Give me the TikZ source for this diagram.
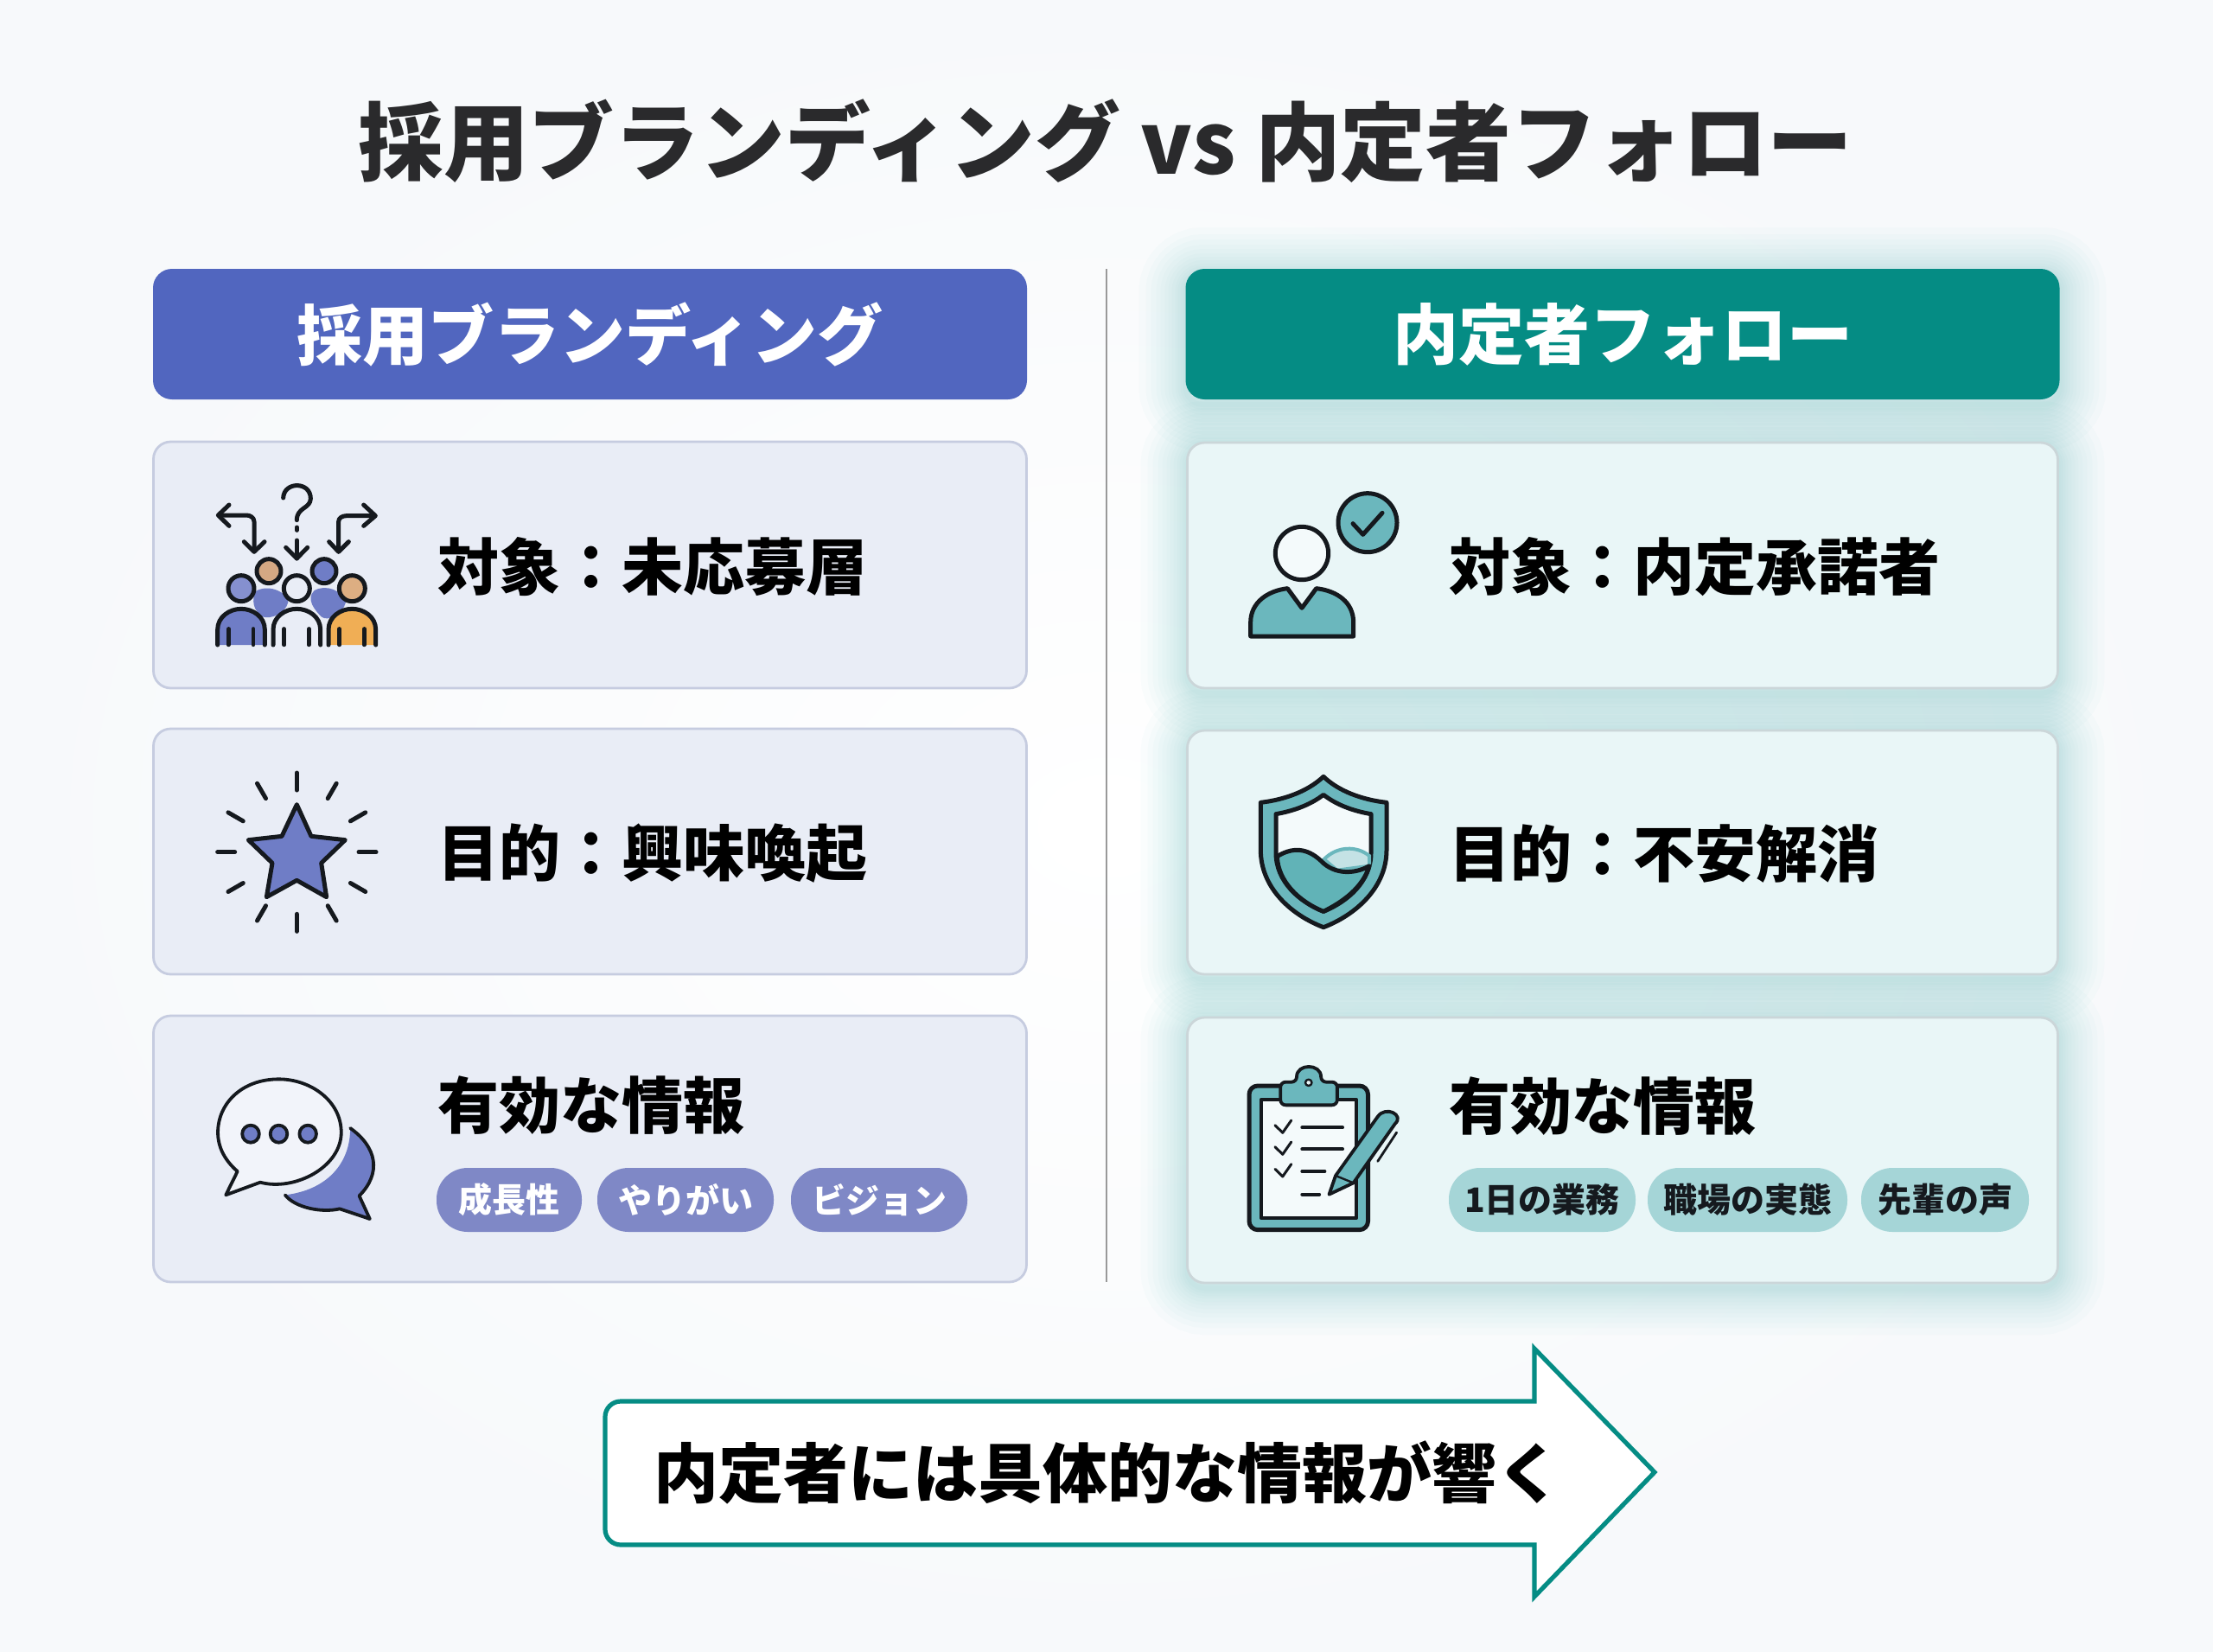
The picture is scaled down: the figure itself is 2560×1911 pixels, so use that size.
\documentclass[tikz,border=0pt]{standalone}
\usepackage{fontspec}
\setmainfont{Noto Sans CJK JP}
\usetikzlibrary{arrows.meta, positioning, calc, backgrounds}

\definecolor{pageedge}{HTML}{F7F9FB}
\definecolor{indigo}{HTML}{5166BF}
\definecolor{indigosoft}{HTML}{6F7DC6}
\definecolor{indigopill}{HTML}{7F88C6}
\definecolor{indigocard}{HTML}{E9EDF6}
\definecolor{indigoedge}{HTML}{C6CCE0}
\definecolor{teal}{HTML}{058C84}
\definecolor{tealsoft}{HTML}{6BB7BD}
\definecolor{tealpill}{HTML}{A5D5D7}
\definecolor{tealcard}{HTML}{E9F6F7}
\definecolor{tealedge}{HTML}{CBD6D9}
\definecolor{tealglow}{HTML}{1FB0AE}
\definecolor{inkdark}{HTML}{15191E}
\definecolor{titleink}{HTML}{2A2A2C}
\definecolor{tanlight}{HTML}{DDAE82}
\definecolor{tandark}{HTML}{D4A883}
\definecolor{amber}{HTML}{F0AE55}

\begin{document}
\begin{tikzpicture}[
  x=0.5pt, y=-0.5pt,
  head/.style = {rounded corners=11pt, minimum width=505.5pt, minimum height=75.5pt, outer sep=0pt, text=white, font=\fontsize{38}{46}\selectfont\bfseries},
  card/.style = {rounded corners=10pt, line width=1.4pt, outer sep=0pt},
  cardL/.style = {card, minimum width=505pt, draw=indigoedge, fill=indigocard},
  cardR/.style = {card, minimum width=503.5pt, draw=tealedge, fill=tealcard},
  cardtext/.style = {inner sep=0pt, text=black, font=\fontsize{35.5}{43}\selectfont\bfseries},
  pill/.style = {rounded corners=18pt, minimum height=37pt, inner sep=0pt, outer sep=0pt, font=\fontsize{19.5}{24}\selectfont\bfseries},
  pillL/.style = {pill, fill=indigopill, text=white},
  pillR/.style = {pill, fill=tealpill, text=inkdark},
  icon/.style = {draw=inkdark, line width=2.5pt, line join=round, line cap=round},
  thin icon/.style = {icon, line width=1.9pt},
  zoomed/.style = {x=0.16667pt, y=-0.16667pt}
]

  % Canvas
  \path[use as bounding box] (0,0) rectangle (2560,1911);

  % Title
  \node[text=titleink, font=\fontsize{49.4}{59}\selectfont\bfseries] (title) at (1279,163) {採用ブランディング vs 内定者フォロー};

  % Left column
  \node[head, fill=indigo] (headL) at (682.5,386.5) {\raisebox{-1pt}{採用ブランディング}};
  \node[cardL, minimum height=142.5pt, below=24.5pt of headL] (cardL1) {};
  \node[cardL, minimum height=142pt, below=23.5pt of cardL1] (cardL2) {};
  \node[cardL, minimum height=154pt, below=24pt of cardL2] (cardL3) {};

  % Right column
  \node[head, fill=teal] (headR) at (1877,386.5) {\raisebox{-1pt}{内定者フォロー}};
  \node[cardR, minimum height=142pt, below=25pt of headR] (cardR1) {};
  \node[cardR, minimum height=141pt, below=24.5pt of cardR1] (cardR2) {};
  \node[cardR, minimum height=153.5pt, below=25pt of cardR2] (cardR3) {};

  % Divider
  \draw[line width=1.4pt, color=black!40] (1280,311) -- (1280,1483);

  % Row texts
  \node[cardtext, right=164.5pt of cardL1.west, yshift=-1pt] (targetL) {対象：未応募層};
  \node[cardtext, right=164.5pt of cardL2.west, yshift=-1pt] (goalL) {目的：興味喚起};
  \node[cardtext, right=164.5pt of cardL3.west, yshift=25pt] (infoL) {有効な情報};
  \node[cardtext, right=151.5pt of cardR1.west, yshift=-1pt] (targetR) {対象：内定承諾者};
  \node[cardtext, right=151.5pt of cardR2.west, yshift=-1pt] (goalR) {目的：不安解消};
  \node[cardtext, right=151.5pt of cardR3.west, yshift=25.5pt] (infoR) {有効な情報};

  % Pills
  \node[pillL, minimum width=84pt] (pillL1) at (589,1388) {成長性};
  \node[pillL, minimum width=102pt, right=9pt of pillL1] (pillL2) {やりがい};
  \node[pillL, minimum width=102pt, right=10pt of pillL2] (pillL3) {ビジョン};
  \node[pillR, minimum width=108pt] (pillR1) at (1784,1388) {1日の業務};
  \node[pillR, minimum width=115.5pt, right=7pt of pillR1] (pillR2) {職場の実態};
  \node[pillR, minimum width=97pt, right=8pt of pillR2] (pillR3) {先輩の声};

  % Bottom arrow
  \draw[line width=2.6pt, draw=teal, fill=white, line join=miter]
    (1775,1621) -- (1775,1560) -- (1914,1703) -- (1775,1847) -- (1775,1787)
    [rounded corners=9pt] -- (700,1787) -- (700,1621) [sharp corners] -- cycle;
  \node[text=black, font=\fontsize{37.5}{45}\selectfont\bfseries] (message) at (1281,1703) {内定者には具体的な情報が響く};

  % Icon: crowd
  \begin{scope}[shift={(200,520)}, zoomed]
    \draw[icon] (282,350) -- (282,250) to[out=90,in=0] (255,228) -- (160,228);
    \draw[icon] (195,192) -- (157,228) -- (195,265);
    \draw[icon] (247,320) -- (282,355) -- (318,320);
    \draw[icon] (575,350) -- (575,250) to[out=90,in=180] (602,230) -- (700,230);
    \draw[icon] (662,192) -- (703,230) -- (662,265);
    \draw[icon] (542,320) -- (575,355) -- (610,320);
    \draw[icon] (383,168) .. controls (385,110) and (478,110) .. (478,170) .. controls (478,205) and (430,200) .. (430,245);
    \draw[icon] (430,270) -- (430,280);
    \draw[icon] (430,315) -- (430,378);
    \draw[icon] (392,340) -- (430,378) -- (467,340);
    \fill[indigosoft] (290,490) .. controls (340,465) and (400,500) .. (400,530) .. controls (390,570) and (340,590) .. (310,580) .. controls (280,560) and (270,520) .. (290,490);
    \fill[indigosoft] (490,490) .. controls (530,465) and (590,490) .. (600,530) .. controls (590,570) and (540,600) .. (515,580) .. controls (495,560) and (460,520) .. (490,490);
    \draw[icon, fill=tandark] (333,422) circle[radius=42];
    \draw[icon, fill=indigosoft] (525,422) circle[radius=42];
    \foreach \cx/\headcol/\bodycol in {237/indigosoft!85!white/indigosoft, 430/indigocard/indigocard, 622/tanlight/amber} {
      \draw[icon, fill=\headcol] (\cx,482) circle[radius=45];
      \draw[icon, fill=\bodycol] (\cx-82,678) -- (\cx-82,625) .. controls (\cx-82,580) and (\cx-40,553) .. (\cx,553) .. controls (\cx+40,553) and (\cx+82,580) .. (\cx+82,625) -- (\cx+82,678);
      \draw[thin icon, line width=2.2pt] (\cx-44,622) -- (\cx-44,678);
      \draw[thin icon, line width=2.2pt] (\cx+42,622) -- (\cx+42,678);
    }
  \end{scope}

  % Icon: star
  \begin{scope}[shift={(200,860)}, zoomed]
    \foreach \ang in {0,30,...,330}
      \draw[icon] ($(430,377)+(\ang:215)$) -- ($(430,377)+(\ang:275)$);
    \draw[icon, fill=indigosoft] (430,212) -- (480,322) -- (598,335) -- (515,415) -- (533,533) -- (430,475) -- (325,533) -- (345,415) -- (262,335) -- (378,322) -- cycle;
  \end{scope}

  % Icon: speech bubbles
  \begin{scope}[shift={(200,1200)}, x=0.3062pt, y=-0.16667pt]
    \fill[indigosoft] (335,315) .. controls (385,380) and (395,470) .. (352,550) -- (372,630) -- (315,595) .. controls (280,610) and (230,590) .. (212,547) .. controls (290,530) and (335,440) .. (335,315) -- cycle;
    \draw[thin icon] (335,315) .. controls (385,380) and (395,470) .. (352,550) -- (372,630) -- (315,595) .. controls (280,610) and (230,590) .. (212,547);
    \draw[thin icon, fill=indigocard!60!white] (122,465) -- (100,547) -- (165,503) .. controls (230,535) and (318,450) .. (318,330) .. controls (318,220) and (260,145) .. (200,145) .. controls (130,145) and (85,230) .. (85,330) .. controls (85,385) and (100,430) .. (122,465) -- cycle;
    \foreach \dotx in {147,200,255}
      \draw[thin icon, fill=indigosoft] (\dotx,335) ellipse[x radius=16, y radius=30];
  \end{scope}

  % Icon: accepted person
  \begin{scope}[shift={(1400,540)}, zoomed]
    \draw[icon, fill=tealcard!50!white] (318,300) circle[radius=92];
    \draw[icon, fill=tealsoft] (140,588) -- (140,540) .. controls (140,470) and (200,430) .. (268,422) -- (318,490) -- (368,422) .. controls (440,430) and (497,470) .. (497,540) -- (497,588) -- cycle;
    \draw[icon, fill=tealsoft] (546,194) circle[radius=102];
    \draw[icon] (495,197) -- (530,235) -- (597,160);
  \end{scope}

  % Icon: shield
  \begin{scope}[shift={(1400,870)}, zoomed]
    \draw[icon, fill=tealsoft] (393,85) .. controls (340,135) and (260,165) .. (175,175) -- (175,340) .. controls (175,470) and (280,565) .. (393,608) .. controls (505,565) and (612,470) .. (612,340) -- (612,175) .. controls (525,165) and (445,135) .. (393,85) -- cycle;
    \draw[icon, fill=tealcard!50!white] (393,148) .. controls (345,185) and (285,205) .. (228,215) -- (228,350) .. controls (228,450) and (310,520) .. (393,553) .. controls (475,520) and (558,450) .. (558,350) -- (558,215) .. controls (500,205) and (440,185) .. (393,148) -- cycle;
    \draw[draw=tealsoft, line width=2pt, fill=tealsoft!40!white] (395,372) .. controls (440,325) and (510,325) .. (552,360) -- (552,395) -- (440,410) -- cycle;
    \draw[icon, fill=tealsoft!90!teal] (232,362) .. controls (300,320) and (350,345) .. (385,378) .. controls (430,425) and (500,425) .. (552,395) .. controls (530,470) and (460,520) .. (393,553) .. controls (310,520) and (235,450) .. (232,362) -- cycle;
  \end{scope}

  % Icon: clipboard
  \begin{scope}[shift={(1400,1200)}, x=0.3125pt, y=-0.16667pt]
    \draw[icon, fill=tealsoft, rounded corners=5pt] (72,168) rectangle (292,668);
    \draw[thin icon, fill=tealcard!50!white] (95,215) rectangle (270,628);
    \draw[thin icon, fill=tealsoft, rounded corners=3pt] (130,235) -- (130,155) -- (160,155) .. controls (160,90) and (205,90) .. (205,155) -- (235,155) -- (235,235) -- cycle;
    \draw[thin icon, fill=tealcard, line width=1.2pt] (182,157) ellipse[x radius=6, y radius=11];
    \foreach \liney/\lineend in {313/245, 388/245, 465/212, 545/202}
      \draw[thin icon] (170,\liney) -- (\lineend,\liney);
    \foreach \liney in {313, 388, 465}
      \draw[thin icon, line width=1.5pt] (120,\liney-8) -- (134,\liney+18) -- (150,\liney-25);
    \draw[line width=5pt, color=tealcard] (240,480) -- (325,280);
    \draw[thin icon, fill=tealsoft] (220,545) -- (232,480) -- (310,275) .. controls (325,235) and (360,270) .. (342,300) -- (265,505) -- cycle;
    \draw[thin icon, line width=1.2pt] (232,480) -- (265,505);
    \draw[thin icon, line width=1.4pt] (345,330) -- (310,430);
  \end{scope}

  % Page colour and glow behind the right column
  \begin{scope}[on background layer]
    \shade[inner color=white, outer color=pageedge] (0,0) rectangle (2560,1911);
    \foreach \boxname in {headR, cardR1, cardR2, cardR3}
      \foreach \glow in {3,6,9,12,16,20,24,29,34,40,46,54}
        \draw[draw=tealglow, opacity=0.02, line width=\glow pt, rounded corners=10pt] ([yshift=-3pt]\boxname.north west) rectangle ([yshift=-3pt]\boxname.south east);
  \end{scope}

\end{tikzpicture}
\end{document}
